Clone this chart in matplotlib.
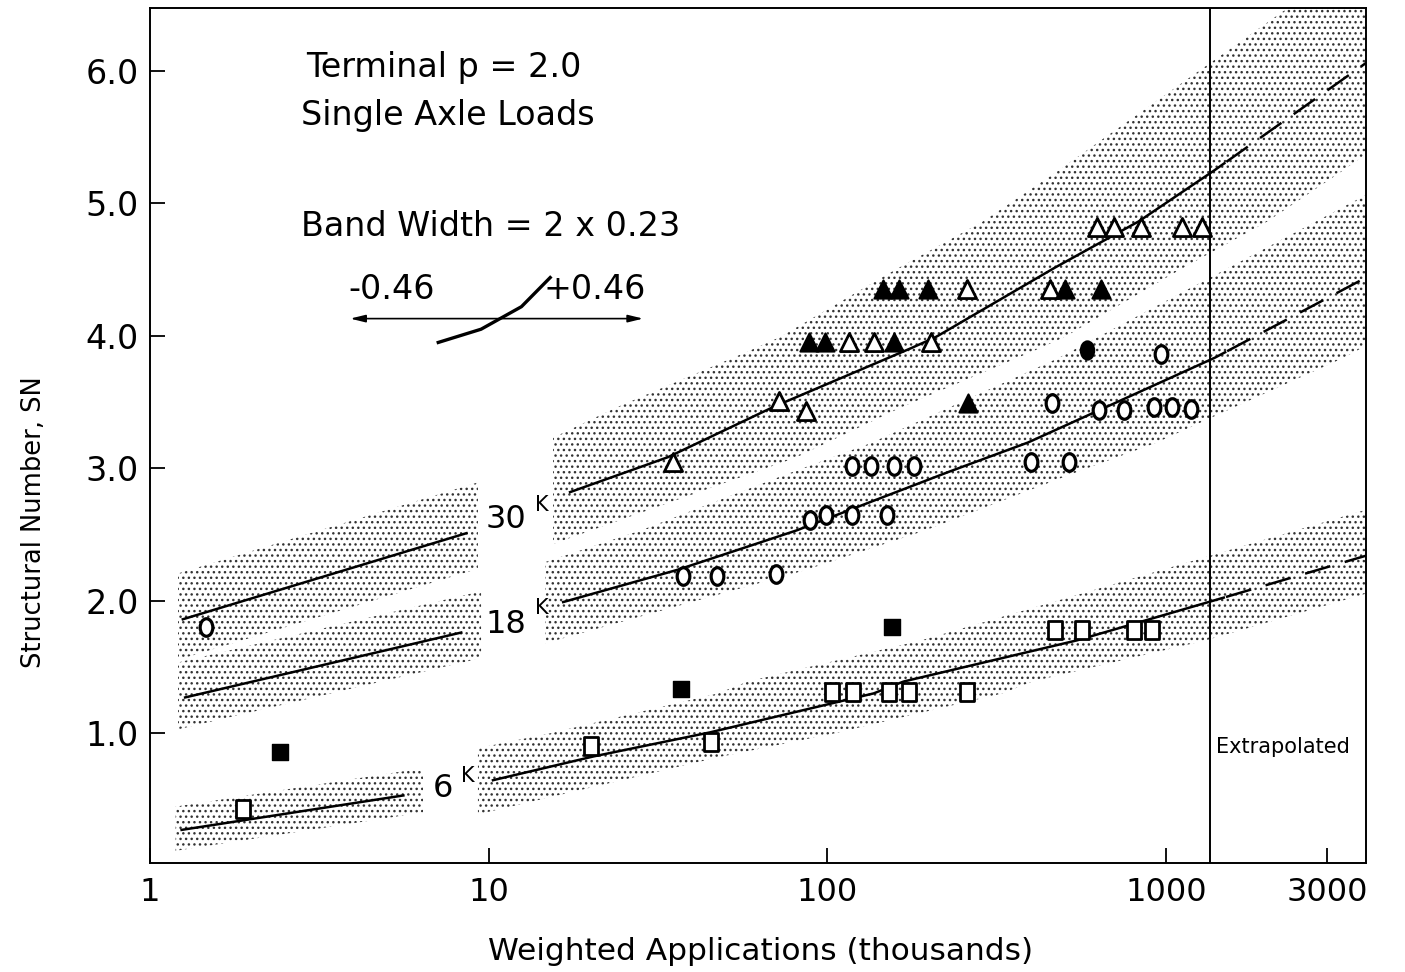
import numpy as np
import matplotlib
matplotlib.use("Agg")
import matplotlib.pyplot as plt
from matplotlib.markers import MarkerStyle
from matplotlib.transforms import Affine2D

# ---- design curves: weighted applications (thousands) -> structural number ----
# 30 kip single axle
w30_a = [1.25, 8.6]
sn30_a = [1.86, 2.51]
w30_b = [17.4, 33.6, 68.9, 171, 209, 459, 827, 1357, 3900]
sn30_b = [2.82, 3.08, 3.46, 3.89, 3.99, 4.50, 4.86, 5.23, 6.06]
# 18 kip single axle
w18_a = [1.27, 8.3]
sn18_a = [1.27, 1.76]
w18_b = [16.6, 35.8, 81, 216, 388, 612, 1384, 3900]
sn18_b = [1.99, 2.23, 2.53, 2.95, 3.19, 3.42, 3.83, 4.44]
# 6 kip single axle
w6_a = [1.24, 5.6]
sn6_a = [0.27, 0.53]
w6_b = [10.3, 20, 44, 137, 168, 545, 1338, 3900]
sn6_b = [0.645, 0.82, 1.00, 1.30, 1.39, 1.70, 1.99, 2.34]

# band limits along W for each curve piece
band30 = [(1.21, 9.3), (15.5, 3900)]
band18 = [(1.21, 9.5), (14.7, 3900)]
band6 = [(1.19, 6.4), (9.3, 3900)]
BAND_UP = 0.46         # log W offset of upper band edge
BAND_DOWN = 0.38       # log W offset of lower band edge
W_SOLID_END = 1500     # beyond this the curves are extrapolated
W_EXTRAP = 1350        # limit of test data

# ---- observed sections ----
tri_open_w = [35, 71.8, 86.8, 116, 137, 202, 258, 455, 625, 701, 843, 1114, 1277]
tri_open_sn = [3.05, 3.51, 3.43, 3.95, 3.95, 3.95, 4.35, 4.35, 4.82, 4.82, 4.82, 4.82, 4.82]
tri_fill_w = [88.4, 98.5, 157, 146.6, 163, 199, 505, 642, 261]
tri_fill_sn = [3.95, 3.95, 3.95, 4.35, 4.35, 4.35, 4.35, 4.35, 3.49]

circ_open_w = [1.46, 37.6, 47.1, 70.8, 89, 99.5, 118, 150, 118, 135, 157, 180,
               401, 516, 460, 966, 633, 750, 920, 1040, 1184]
circ_open_sn = [1.80, 2.19, 2.19, 2.20, 2.61, 2.65, 2.65, 2.65, 3.02, 3.02, 3.02, 3.02,
                3.05, 3.05, 3.49, 3.86, 3.44, 3.44, 3.46, 3.46, 3.45]
circ_fill_w = [583]
circ_fill_sn = [3.89]

sq_open_w = [1.88, 20.1, 45.5, 103, 119, 152, 174, 258, 472, 564, 804, 908]
sq_open_sn = [0.43, 0.90, 0.93, 1.31, 1.31, 1.31, 1.31, 1.31, 1.78, 1.78, 1.78, 1.78]
sq_fill_w = [2.42, 37.1, 155]
sq_fill_sn = [0.86, 1.33, 1.80]

plt.rcParams["font.family"] = ["DejaVu Sans"]
plt.rcParams["hatch.color"] = "#333333"
plt.rcParams["hatch.linewidth"] = 1.0

fig = plt.figure(figsize=(14.05, 9.72), dpi=100)
ax = fig.add_axes([150 / 1405, 1 - 863 / 972, 1216 / 1405, 855 / 972])
ax.set_xscale("log")
ax.set_xlim(1, 3900)
ax.set_ylim(0.02, 6.475)


def sn_at(lw, lw_pts, sn_pts):
    # piecewise linear in log W, carried straight past both ends
    lw_pts = np.asarray(lw_pts)
    sn_pts = np.asarray(sn_pts)
    y = np.interp(lw, lw_pts, sn_pts)
    s0 = (sn_pts[1] - sn_pts[0]) / (lw_pts[1] - lw_pts[0])
    s1 = (sn_pts[-1] - sn_pts[-2]) / (lw_pts[-1] - lw_pts[-2])
    lo = lw < lw_pts[0]
    hi = lw > lw_pts[-1]
    y[lo] = sn_pts[0] + s0 * (lw[lo] - lw_pts[0])
    y[hi] = sn_pts[-1] + s1 * (lw[hi] - lw_pts[-1])
    return y


def draw_piece(w, sn, limits, extrap):
    lw_pts = np.log10(w)
    lw = np.linspace(np.log10(limits[0]), np.log10(limits[1]), 300)
    upper = sn_at(lw + BAND_UP, lw_pts, sn)
    lower = sn_at(lw - BAND_DOWN, lw_pts, sn)
    ax.fill_between(10 ** lw, lower, upper, facecolor="white",
                    edgecolor="#333333", hatch="...", linewidth=0, zorder=1)
    if not extrap:
        ax.plot(w, sn, color="black", lw=1.8, zorder=2)
        return
    lw_line = np.linspace(lw_pts[0], lw_pts[-1], 400)
    sn_line = sn_at(lw_line, lw_pts, sn)
    solid = lw_line <= np.log10(W_SOLID_END)
    ax.plot(10 ** lw_line[solid], sn_line[solid], color="black", lw=1.8, zorder=2)
    ax.plot(10 ** lw_line[~solid], sn_line[~solid], color="black", lw=1.8,
            linestyle=(0, (10.5, 6)), zorder=2)


for (wa, sa, wb, sb, lim) in [(w30_a, sn30_a, w30_b, sn30_b, band30),
                              (w18_a, sn18_a, w18_b, sn18_b, band18),
                              (w6_a, sn6_a, w6_b, sn6_b, band6)]:
    draw_piece(wa, sa, lim[0], False)
    draw_piece(wb, sb, lim[1], True)

# test-data limit
ax.axvline(W_EXTRAP, color="black", lw=1.4, zorder=2)

tall = Affine2D().scale(0.72, 1.0)
ax.scatter(tri_open_w, tri_open_sn, marker="^", s=170, facecolor="white",
           edgecolor="black", linewidth=2, zorder=3)
ax.scatter(tri_fill_w, tri_fill_sn, marker="^", s=170, facecolor="black",
           edgecolor="black", linewidth=1.5, zorder=3)
ax.scatter(circ_open_w, circ_open_sn, marker=MarkerStyle("o", transform=tall),
           s=160, facecolor="white", edgecolor="black", linewidth=2.3, zorder=3)
ax.scatter(circ_fill_w, circ_fill_sn, marker=MarkerStyle("o", transform=tall),
           s=160, facecolor="black", edgecolor="black", linewidth=2, zorder=3)
ax.scatter(sq_open_w, sq_open_sn, marker=MarkerStyle("s", transform=tall),
           s=170, facecolor="white", edgecolor="black", linewidth=2, zorder=3)
ax.scatter(sq_fill_w, sq_fill_sn, marker="s", s=120, facecolor="black",
           edgecolor="black", linewidth=1, zorder=3)

# headings
ax.text(2.89, 5.955, "Terminal p = 2.0", fontsize=24)
ax.text(2.79, 5.59, "Single Axle Loads", fontsize=24)
ax.text(2.79, 4.75, "Band Width = 2 x 0.23", fontsize=24)
ax.text(3.85, 4.28, "-0.46", fontsize=24)
ax.text(14.5, 4.28, "+0.46", fontsize=24)
ax.annotate("", xy=(3.9, 4.13), xytext=(28.6, 4.13),
            arrowprops=dict(arrowstyle="<|-|>,head_length=0.9,head_width=0.22",
                            color="black", lw=1.2, shrinkA=0, shrinkB=0))
ax.plot([7.1, 9.5, 12.5, 15.2], [3.95, 4.05, 4.22, 4.44], color="black", lw=2.4)

# load labels
ax.text(9.77, 2.55, "30", fontsize=23)
ax.text(13.7, 2.68, "K", fontsize=15)
ax.text(9.77, 1.755, "18", fontsize=23)
ax.text(13.7, 1.90, "K", fontsize=15)
ax.text(6.86, 0.517, "6", fontsize=23)
ax.text(8.3, 0.63, "K", fontsize=15)
ax.text(1410, 0.85, "Extrapolated", fontsize=15)

# axes
for side in ax.spines.values():
    side.set_linewidth(1.4)
ax.set_yticks([1, 2, 3, 4, 5, 6])
ax.set_yticklabels(["1.0", "2.0", "3.0", "4.0", "5.0", "6.0"])
ax.set_xticks([1, 10, 100, 1000, 3000])
ax.set_xticklabels(["1", "10", "100", "1000", "3000"])
ax.xaxis.set_minor_locator(matplotlib.ticker.NullLocator())
ax.tick_params(axis="both", direction="in", length=11, width=1.3)
ax.tick_params(axis="y", labelsize=24, pad=8)
ax.tick_params(axis="x", labelsize=23, pad=10)

fig.text(0.541, 0.012, "Weighted Applications (thousands)",
         fontsize=22.5, ha="center", va="baseline")
fig.text(0.024, 0.463, "Structural Number, SN", fontsize=18.5, rotation=90,
         ha="center", va="center")

fig.savefig("out.png", dpi=100)
